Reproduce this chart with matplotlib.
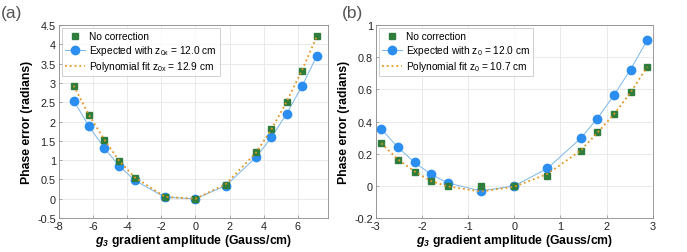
import numpy as np
import matplotlib
matplotlib.use("Agg")
import matplotlib.pyplot as plt

plt.rcParams['font.family'] = ['Liberation Sans', 'DejaVu Sans']
plt.rcParams['axes.unicode_minus'] = False
plt.rcParams['mathtext.fontset'] = 'custom'
plt.rcParams['mathtext.rm'] = 'Liberation Sans'
plt.rcParams['mathtext.it'] = 'Liberation Sans:italic'
plt.rcParams['mathtext.bf'] = 'Liberation Sans:bold'
plt.rcParams['mathtext.bfit'] = 'Liberation Sans:bold:italic'

# panel (a)
xa = [-7.12, -6.23, -5.34, -4.45, -3.56, -1.78, 0, 1.78, 3.56, 4.45, 5.34, 6.23, 7.12]
nocorr_a = [2.92, 2.16, 1.53, 0.97, 0.55, 0.04, 0.0, 0.37, 1.21, 1.81, 2.52, 3.32, 4.21]
expect_a = [2.54, 1.88, 1.32, 0.85, 0.48, 0.04, 0.0, 0.34, 1.08, 1.59, 2.20, 2.91, 3.71]
fit_a = [2.93, 2.17, 1.54, 0.98, 0.56, 0.05, 0.0, 0.38, 1.20, 1.80, 2.51, 3.32, 4.22]

# panel (b)
xb = [-2.88, -2.52, -2.16, -1.80, -1.44, -0.72, 0, 0.72, 1.44, 1.80, 2.16, 2.52, 2.88]
nocorr_b = [0.269, 0.162, 0.088, 0.029, -0.002, 0.0, 0.0, 0.064, 0.220, 0.335, 0.448, 0.583, 0.741]
expect_b = [0.353, 0.240, 0.146, 0.072, 0.018, -0.031, 0.0, 0.109, 0.296, 0.419, 0.563, 0.723, 0.906]
fit_b = [0.265, 0.165, 0.090, 0.030, -0.003, -0.035, -0.005, 0.075, 0.220, 0.330, 0.445, 0.580, 0.740]

green = '#2f7d3c'
blue = '#2b8ef0'
blue_line = '#7ab6e8'
orange = '#e4961f'

fig = plt.figure(figsize=(6.87, 2.53), dpi=100)
ax1 = fig.add_axes([0.0854, 0.134, 0.392, 0.763])
ax2 = fig.add_axes([0.547, 0.134, 0.403, 0.763])


def draw(ax, x, nc, ex, ft, sub, zexp, zfit):
    ax.plot(x, nc, 's', color=green, markersize=4.0, label='No correction', zorder=3)
    ax.plot(x, ex, '-o', color=blue_line, lw=0.7, markerfacecolor=blue,
            markeredgecolor=blue, markersize=6.0,
            label=r'Expected with $\mathrm{z}_{\mathrm{' + sub + '}}$ = ' + zexp + ' cm', zorder=2)
    ax.plot(x, ft, ':', color=orange, lw=1.3,
            label=r'Polynomial fit $\mathrm{z}_{\mathrm{' + sub + '}}$ = ' + zfit + ' cm', zorder=4)
    ax.grid(True, color='#e6e6e6', lw=0.6)
    ax.set_axisbelow(True)
    for s in ax.spines.values():
        s.set_color('#8a8a8a')
        s.set_linewidth(0.6)
    ax.tick_params(direction='in', length=2.5, width=0.5, colors='#8a8a8a',
                   labelcolor='#222222', labelsize=7.8, pad=2)
    ax.set_xlabel(r'$\mathbfit{g}_{\mathbfit{3}}$ gradient amplitude (Gauss/cm)',
                  fontsize=8.8, fontweight='bold', labelpad=1)
    ax.set_ylabel('Phase error (radians)', fontsize=8.8, fontweight='bold', labelpad=3)
    leg = ax.legend(loc='upper left', fontsize=7.3, frameon=True, fancybox=False,
                    handlelength=2.0, handletextpad=0.4, borderpad=0.3,
                    labelspacing=0.2, borderaxespad=0.3)
    leg.get_frame().set_edgecolor('#bbbbbb')
    leg.get_frame().set_linewidth(0.6)


draw(ax1, xa, nocorr_a, expect_a, fit_a, '0x', '12.0', '12.9')
ax1.set_xlim(-8, 7.76)
ax1.set_ylim(-0.5, 4.5)
ax1.set_xticks([-8, -6, -4, -2, 0, 2, 4, 6])
ax1.set_yticks(np.arange(-0.5, 4.51, 0.5))
ax1.set_yticklabels(['-0.5', '0', '0.5', '1', '1.5', '2', '2.5', '3', '3.5', '4', '4.5'])

draw(ax2, xb, nocorr_b, expect_b, fit_b, '0', '12.0', '10.7')
ax2.set_xlim(-3, 3)
ax2.set_ylim(-0.2, 1)
ax2.set_xticks([-3, -2, -1, 0, 1, 2, 3])
ax2.set_yticks([-0.2, 0, 0.2, 0.4, 0.6, 0.8, 1])
ax2.set_yticklabels(['-0.2', '0', '0.2', '0.4', '0.6', '0.8', '1'])

fig.text(0.002, 0.975, '(a)', fontsize=12.5, color='#555555', va='top', ha='left')
fig.text(0.497, 0.975, '(b)', fontsize=12.5, color='#555555', va='top', ha='left')

fig.savefig('out.png', dpi=100)
